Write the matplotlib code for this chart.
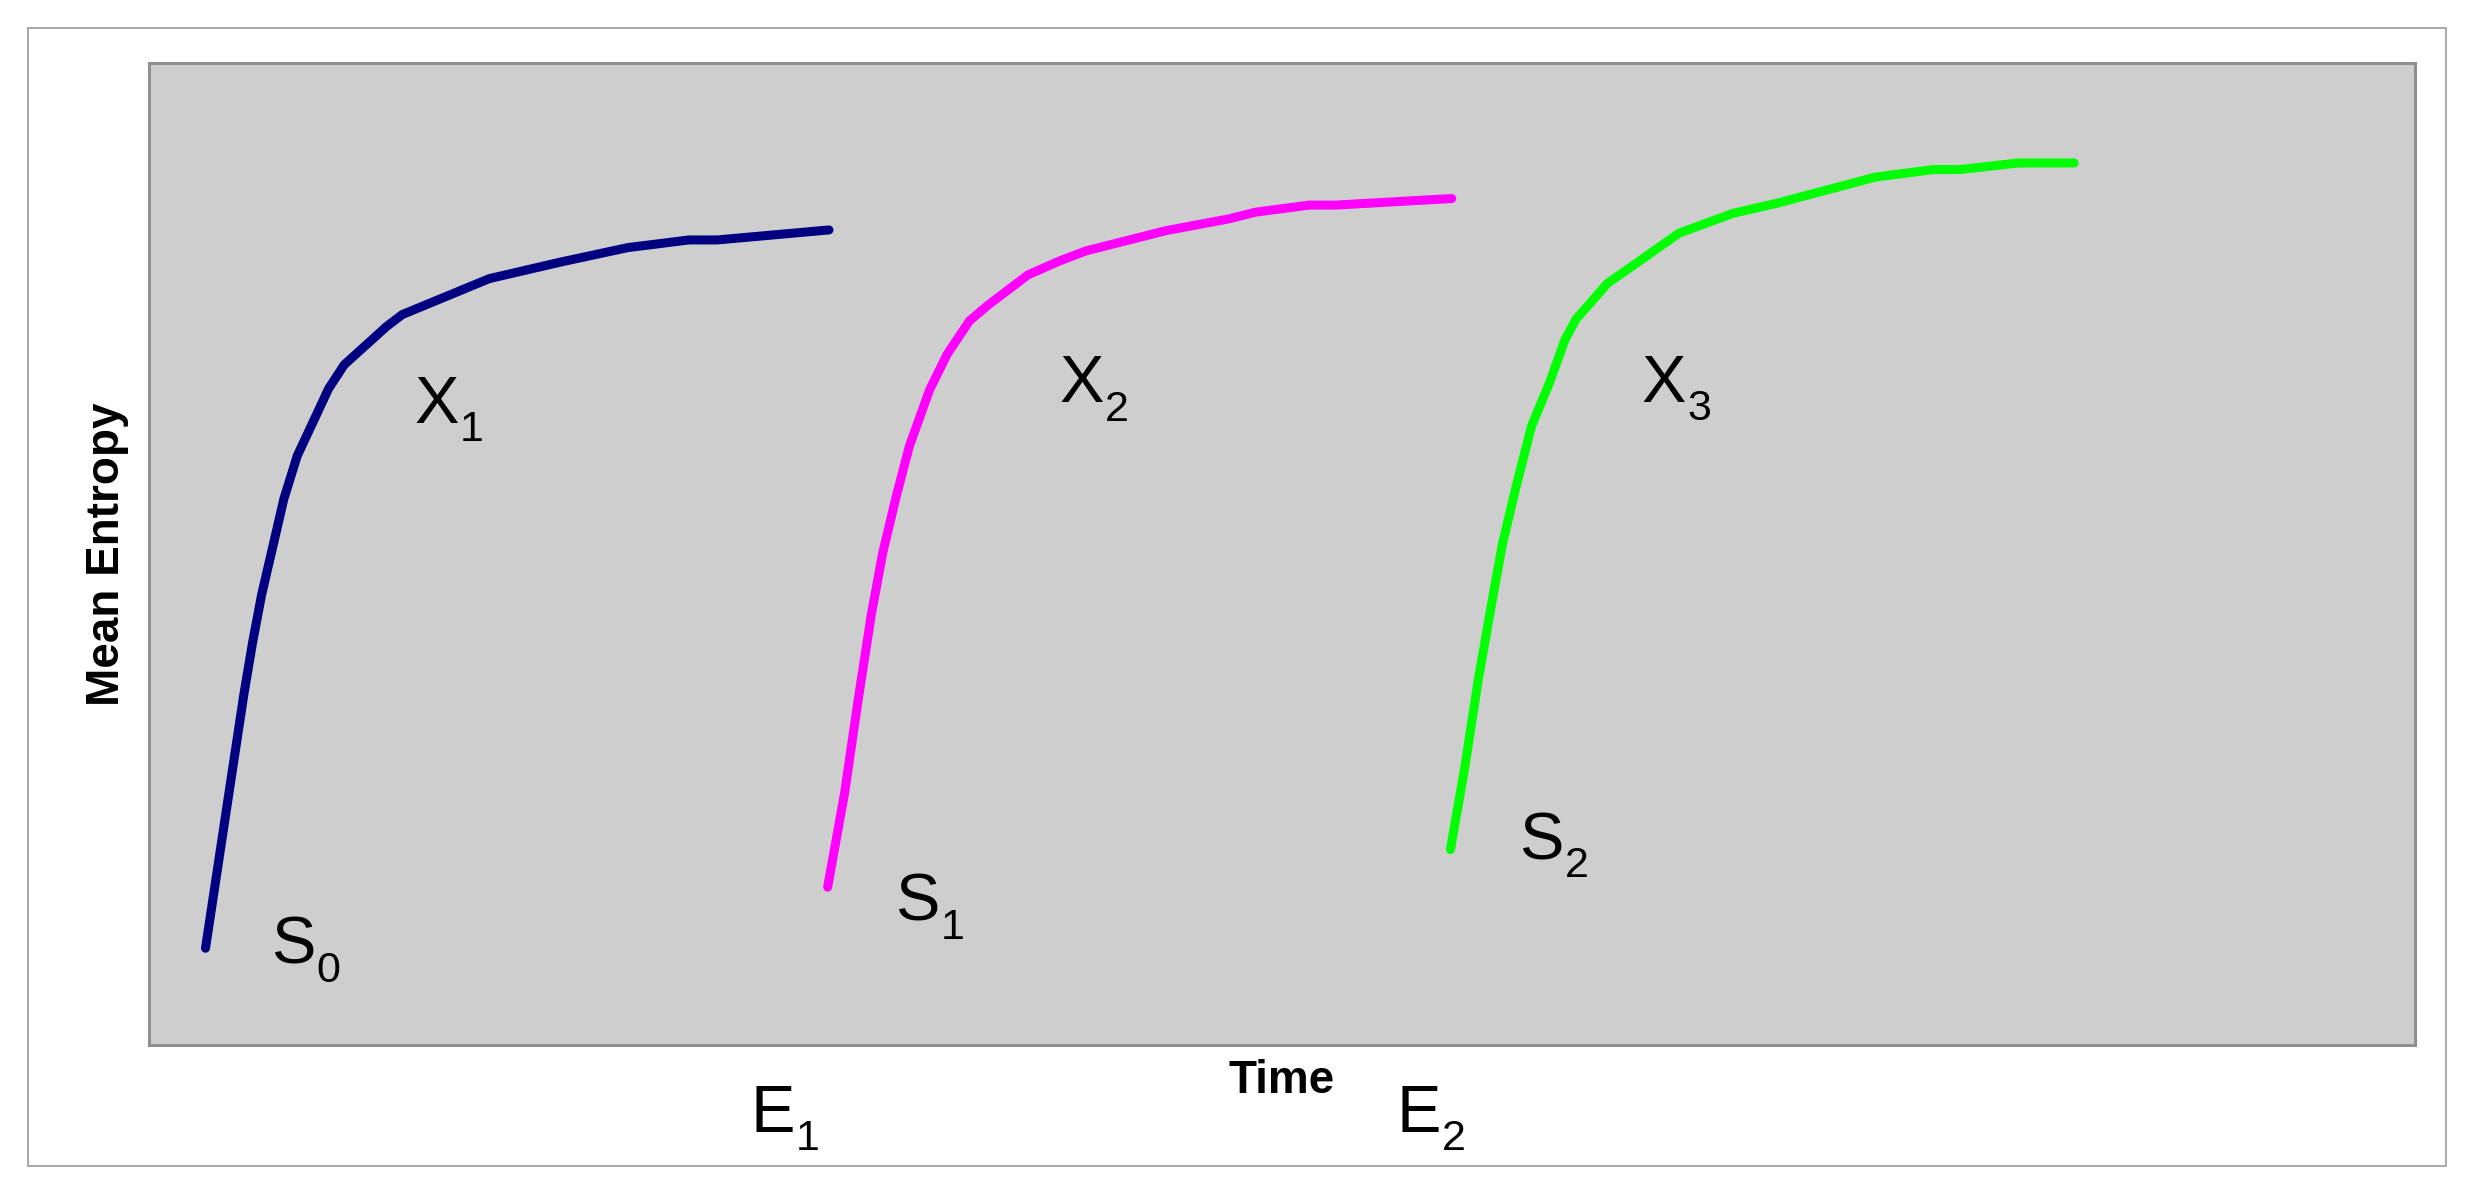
import matplotlib
matplotlib.use("Agg")
import matplotlib.pyplot as plt
from matplotlib.patches import Rectangle

plt.rcParams["font.family"] = ["Liberation Sans", "DejaVu Sans"]

# -------------------------------
# data (time / mean entropy, arbitrary 0-100 units)
# -------------------------------
t_run1 = [2.51, 4.20, 4.59, 4.99, 5.48, 5.97, 6.56, 7.35, 7.94, 8.63, 10.50,
          11.19, 12.47, 15.03, 18.18, 21.14, 23.84, 25.08, 30.02]
h_run1 = [9.85, 35.66, 41.02, 45.89, 50.75, 55.63, 60.01, 63.91, 66.83, 69.27,
          73.17, 74.38, 75.60, 78.04, 79.73, 81.20, 81.98, 81.98, 83.00]

t_run2 = [29.96, 30.71, 31.30, 31.89, 32.39, 32.98, 33.57, 34.46, 35.24, 36.22,
          37.01, 38.79, 40.17, 41.35, 44.89, 47.65, 48.84, 51.20, 52.38, 57.50]
h_run2 = [16.07, 25.67, 35.03, 43.86, 50.10, 55.80, 61.00, 66.72, 70.37, 73.74,
          75.29, 78.41, 79.82, 80.86, 82.93, 84.12, 84.81, 85.53, 85.53, 86.20]

t_run3 = [57.44, 58.07, 58.66, 59.25, 59.74, 60.33, 61.02, 61.81, 62.50, 62.99,
          64.37, 66.15, 67.52, 69.89, 71.85, 76.19, 78.75, 79.93, 82.49, 84.96]
h_run3 = [19.90, 28.21, 37.07, 44.84, 51.07, 56.79, 63.03, 67.43, 71.85, 73.93,
          77.56, 80.43, 82.66, 84.68, 85.72, 88.38, 89.15, 89.15, 89.82, 89.82]

# state labels: letter + subscript
label_main = ["X", "X", "X", "S", "S", "S", "E", "E"]
label_sub = ["1", "2", "3", "0", "1", "2", "1", "2"]
label_t = [11.71, 40.17, 65.89, 5.38, 32.93, 60.47, 26.54, 55.04]
label_h = [63.34, 65.43, 65.48, 8.25, 12.63, 18.94, -8.86, -8.86]

colors = ["#000080", "#ff00ff", "#00ff00"]

# -------------------------------
# plot
# -------------------------------
fig = plt.figure(figsize=(24.78, 11.97), dpi=100)
ax = fig.add_axes([0.05997, 0.12698, 0.97458 - 0.05997, 0.94737 - 0.12698])
ax.set_facecolor("#cecece")

for t, h, c in zip([t_run1, t_run2, t_run3], [h_run1, h_run2, h_run3], colors):
    ax.plot(t, h, color=c, lw=6.5, solid_capstyle="round", solid_joinstyle="round")

for m, s, x, y in zip(label_main, label_sub, label_t, label_h):
    ax.text(x, y, m, fontsize=48, ha="left", va="baseline", clip_on=False)
    # subscript: one letter advance to the right, dropped below the baseline
    ax.annotate(s, xy=(x, y), xytext=(33, -13), textcoords="offset points",
                fontsize=31, ha="left", va="baseline", annotation_clip=False)

ax.set_xlim(0, 100)
ax.set_ylim(0, 100)
ax.set_xticks([])
ax.set_yticks([])
for sp in ax.spines.values():
    sp.set_color("#8f8f8f")
    sp.set_linewidth(2.2)

ax.set_xlabel("Time", fontsize=33, fontweight="bold", labelpad=10)
ax.set_ylabel("Mean Entropy", fontsize=33, fontweight="bold", labelpad=14)

# outer frame
fig.patches.append(Rectangle((0.0113, 0.0259), 0.98709 - 0.0113, 0.97661 - 0.0259,
                             transform=fig.transFigure, fill=False,
                             edgecolor="#9a9a9a", lw=1.2))

fig.savefig("out.png", dpi=100, facecolor="white")
